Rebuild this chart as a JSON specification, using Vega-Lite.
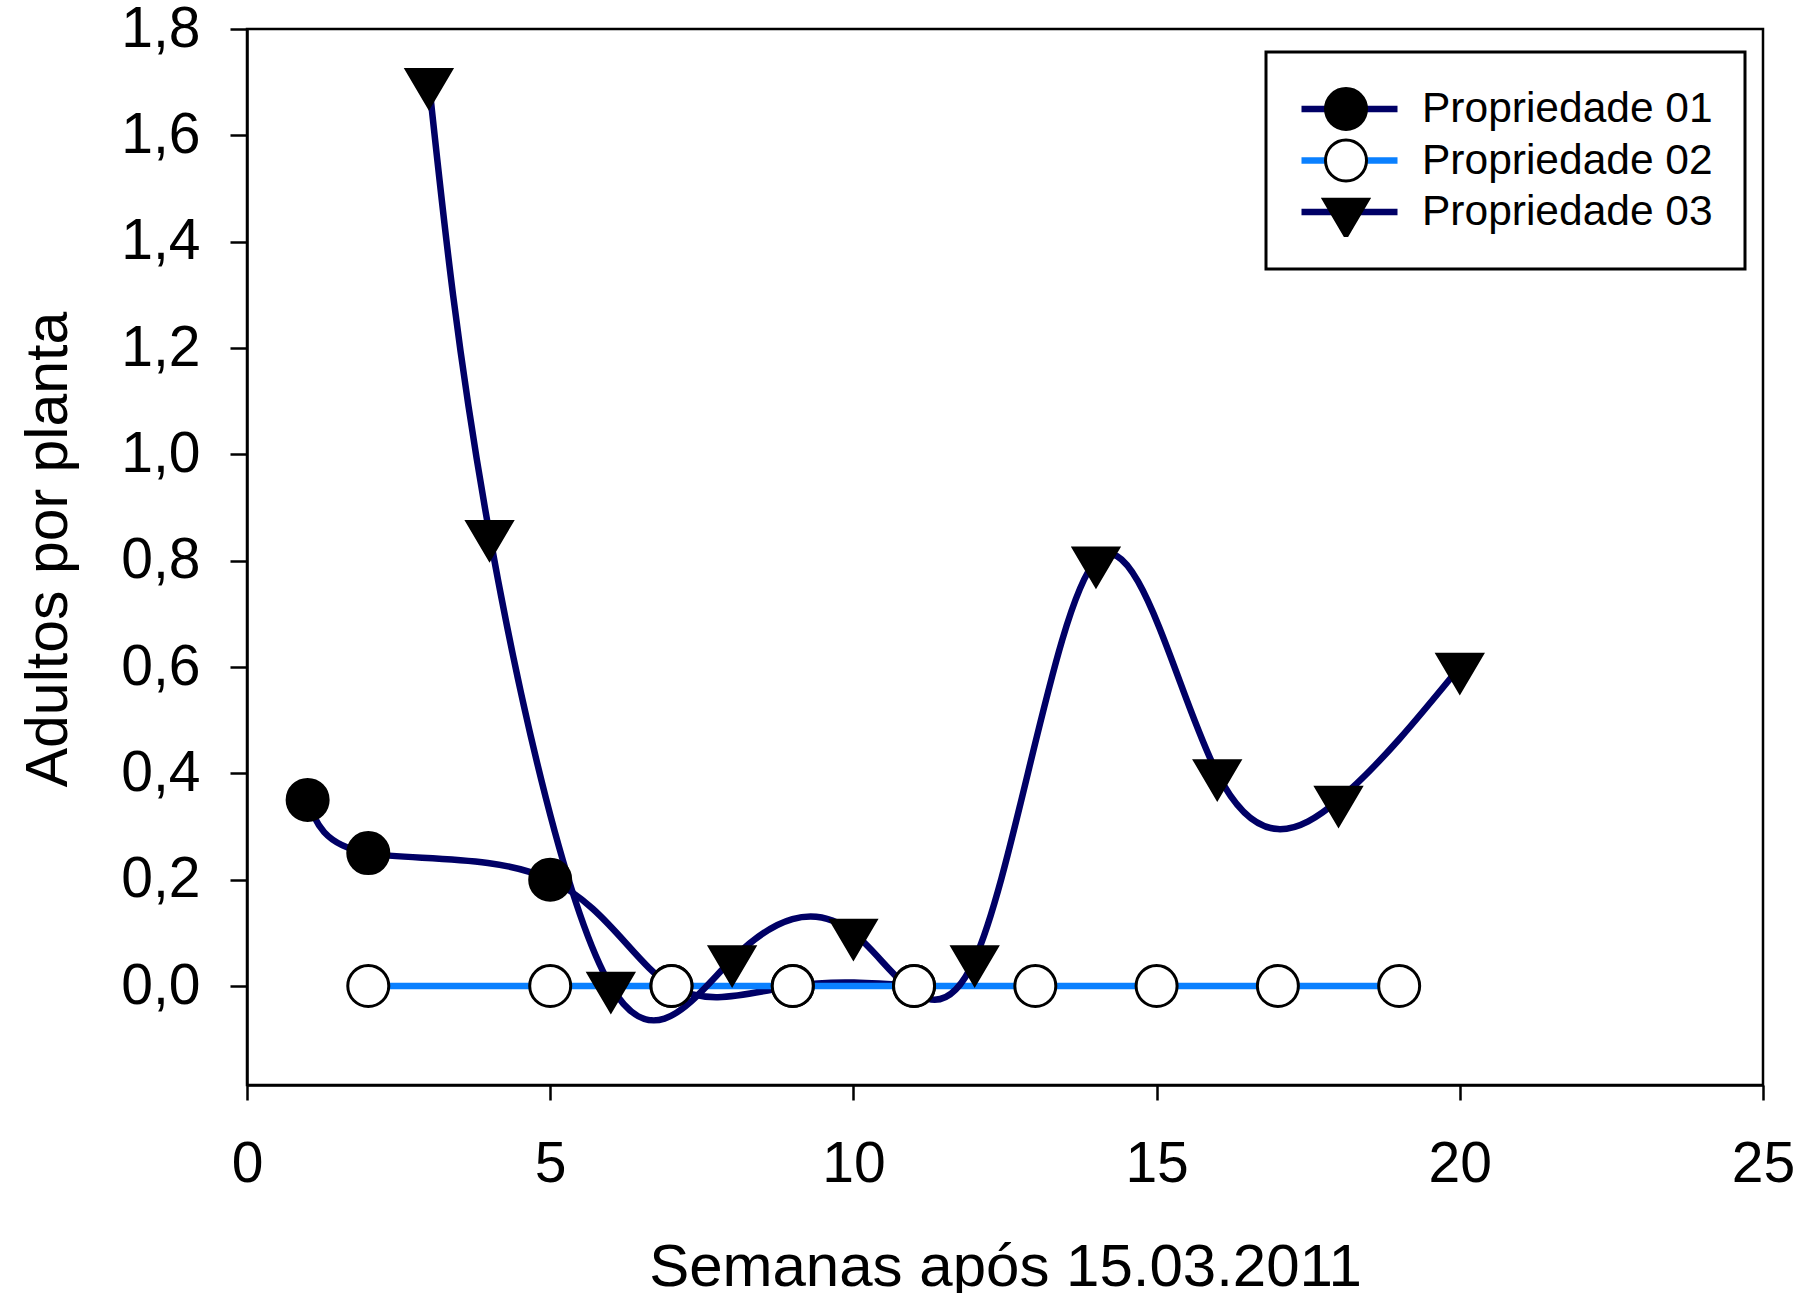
{
  "$schema": "https://vega.github.io/schema/vega-lite/v6.json",
  "autosize": {"type": "none"},
  "padding": {"left": 247, "top": 29, "right": 55, "bottom": 208},
  "width": 1516,
  "height": 1056,
  "background": "white",
  "title": {
    "text": "Petrolina",
    "font": "Liberation Sans",
    "fontSize": 75,
    "fontWeight": "bold",
    "color": "black",
    "frame": "group",
    "anchor": "middle",
    "baseline": "alphabetic",
    "offset": 0,
    "dy": 22,
    "dx": -67
  },
  "config": {
    "view": {"stroke": "black", "strokeWidth": 2.5},
    "axis": {
      "grid": false,
      "domainColor": "black",
      "domainWidth": 2.5,
      "tickColor": "black",
      "tickWidth": 2.5,
      "labelFont": "Liberation Sans",
      "labelColor": "black",
      "labelFlush": false,
      "titleFont": "Liberation Sans",
      "titleColor": "black",
      "titleFontWeight": "normal"
    },
    "legend": {
      "labelFont": "Liberation Sans",
      "labelColor": "black",
      "labelLimit": 600,
      "strokeWidth": 3
    }
  },
  "data": {
    "values": [
      {"semana": 1, "adultos": 0.35, "serie": "Propriedade 01"},
      {"semana": 2, "adultos": 0.25, "serie": "Propriedade 01"},
      {"semana": 5, "adultos": 0.2, "serie": "Propriedade 01"},
      {"semana": 7, "adultos": 0.0, "serie": "Propriedade 01"},
      {"semana": 9, "adultos": 0.0, "serie": "Propriedade 01"},
      {"semana": 11, "adultos": 0.0, "serie": "Propriedade 01"},
      {"semana": 2, "adultos": 0.0, "serie": "Propriedade 02"},
      {"semana": 5, "adultos": 0.0, "serie": "Propriedade 02"},
      {"semana": 7, "adultos": 0.0, "serie": "Propriedade 02"},
      {"semana": 9, "adultos": 0.0, "serie": "Propriedade 02"},
      {"semana": 11, "adultos": 0.0, "serie": "Propriedade 02"},
      {"semana": 13, "adultos": 0.0, "serie": "Propriedade 02"},
      {"semana": 15, "adultos": 0.0, "serie": "Propriedade 02"},
      {"semana": 17, "adultos": 0.0, "serie": "Propriedade 02"},
      {"semana": 19, "adultos": 0.0, "serie": "Propriedade 02"},
      {"semana": 3, "adultos": 1.7, "serie": "Propriedade 03"},
      {"semana": 4, "adultos": 0.85, "serie": "Propriedade 03"},
      {"semana": 6, "adultos": 0.0, "serie": "Propriedade 03"},
      {"semana": 8, "adultos": 0.05, "serie": "Propriedade 03"},
      {"semana": 10, "adultos": 0.1, "serie": "Propriedade 03"},
      {"semana": 12, "adultos": 0.05, "serie": "Propriedade 03"},
      {"semana": 14, "adultos": 0.8, "serie": "Propriedade 03"},
      {"semana": 16, "adultos": 0.4, "serie": "Propriedade 03"},
      {"semana": 18, "adultos": 0.35, "serie": "Propriedade 03"},
      {"semana": 20, "adultos": 0.6, "serie": "Propriedade 03"}
    ]
  },
  "encoding": {
    "x": {
      "field": "semana",
      "type": "quantitative",
      "scale": {"domain": [0, 25], "nice": false, "zero": false},
      "axis": {
        "title": "Semanas após 15.03.2011",
        "values": [0, 5, 10, 15, 20, 25],
        "format": "d",
        "labelFontSize": 57,
        "labelPadding": 36,
        "tickSize": 15,
        "titleFontSize": 60,
        "titleBaseline": "alphabetic",
        "titleY": 200
      }
    },
    "y": {
      "field": "adultos",
      "type": "quantitative",
      "scale": {"domain": [-0.1862, 1.8], "nice": false, "zero": false},
      "axis": {
        "title": "Adultos por planta",
        "values": [0, 0.2, 0.4, 0.6, 0.8, 1.0, 1.2, 1.4, 1.6, 1.8],
        "labelExpr": "replace(format(datum.value, '.1f'), '.', ',')",
        "labelFontSize": 57,
        "labelPadding": 30,
        "tickSize": 17,
        "titleFontSize": 59,
        "titleAngle": -90,
        "titleAlign": "center",
        "titleBaseline": "alphabetic",
        "titleX": -181,
        "titleY": 520
      }
    }
  },
  "layer": [
    {
      "mark": {"type": "line", "interpolate": "natural", "strokeWidth": 6.5},
      "encoding": {
        "color": {
          "field": "serie",
          "type": "nominal",
          "scale": {
            "domain": ["Propriedade 01", "Propriedade 02", "Propriedade 03"],
            "range": ["#000066", "#0a80ff", "#000066"]
          },
          "legend": {
            "title": null,
            "orient": "none",
            "legendX": 1019,
            "legendY": 23,
            "padding": 32,
            "clipHeight": 50,
            "rowPadding": 1.5,
            "symbolType": "stroke",
            "symbolSize": 9216,
            "symbolStrokeWidth": 6.5,
            "symbolOffset": 0,
            "labelOpacity": 0,
            "labelFontSize": 42.5
          }
        }
      }
    },
    {
      "mark": {"type": "point", "filled": true, "opacity": 1, "strokeWidth": 3, "size": 1681},
      "encoding": {
        "shape": {
          "field": "serie",
          "type": "nominal",
          "scale": {"range": ["circle", "circle", "M-1.1,-0.62L1.1,-0.62L0,1.25Z"]},
          "legend": {
            "title": null,
            "orient": "none",
            "legendX": 1019,
            "legendY": 23,
            "padding": 32,
            "clipHeight": 50,
            "rowPadding": 1.5,
            "strokeColor": "black",
            "symbolSize": 1681,
            "symbolStrokeWidth": 3,
            "symbolOffset": 26,
            "labelOffset": 54,
            "labelFontSize": 42.5
          }
        },
        "fill": {
          "field": "serie",
          "type": "nominal",
          "scale": {"range": ["black", "white", "black"]},
          "legend": {
            "title": null,
            "orient": "none",
            "legendX": 1019,
            "legendY": 23,
            "padding": 32,
            "clipHeight": 50,
            "rowPadding": 1.5,
            "strokeColor": "black",
            "symbolSize": 1681,
            "symbolStrokeWidth": 3,
            "symbolOffset": 26,
            "labelOffset": 54,
            "labelFontSize": 42.5
          }
        },
        "stroke": {
          "field": "serie",
          "type": "nominal",
          "scale": {"range": ["black", "black", "black"]},
          "legend": {
            "title": null,
            "orient": "none",
            "legendX": 1019,
            "legendY": 23,
            "padding": 32,
            "clipHeight": 50,
            "rowPadding": 1.5,
            "strokeColor": "black",
            "symbolSize": 1681,
            "symbolStrokeWidth": 3,
            "symbolOffset": 26,
            "labelOffset": 54,
            "labelFontSize": 42.5
          }
        }
      }
    }
  ]
}
